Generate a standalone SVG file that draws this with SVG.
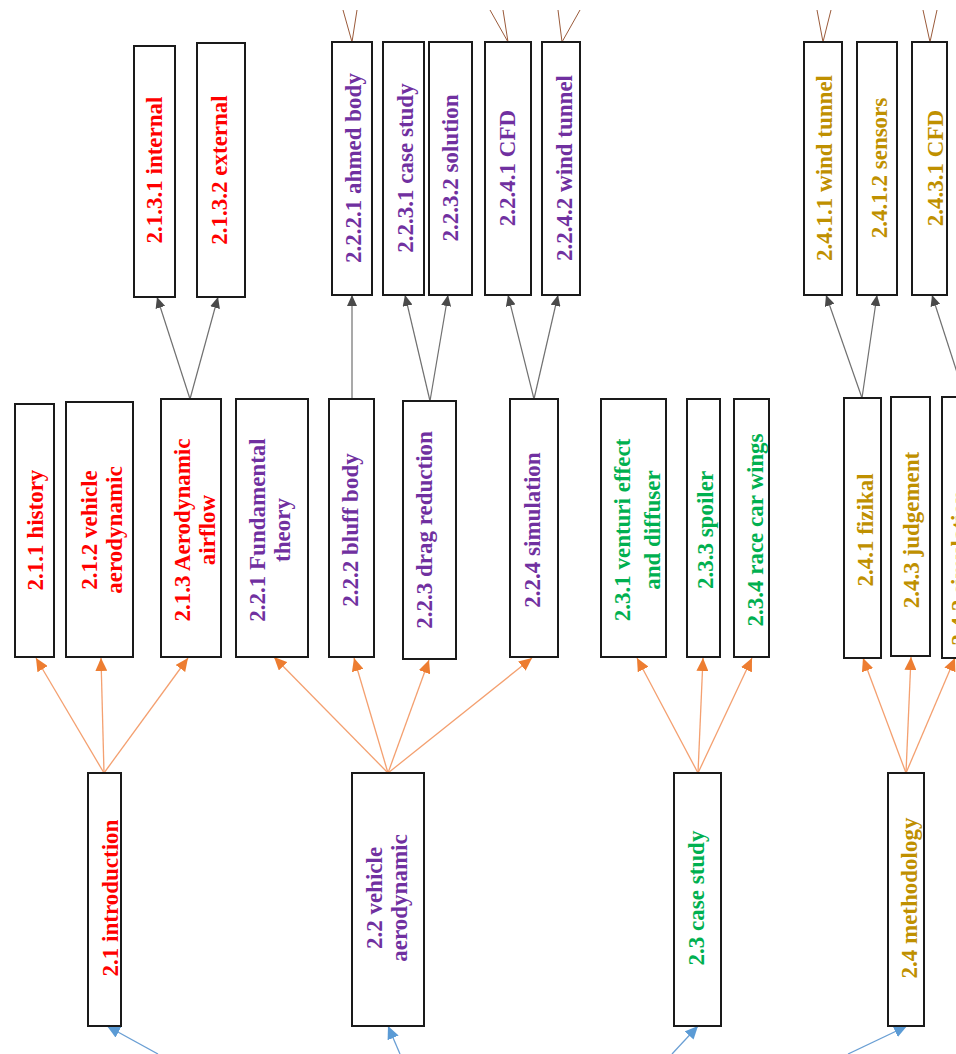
<svg xmlns="http://www.w3.org/2000/svg" width="956" height="1054" viewBox="0 0 956 1054">
<style>
.box{fill:#ffffff;stroke:#1a1a1a;stroke-width:2}
text{font-family:"Liberation Serif","Times New Roman",serif;font-size:23px;font-weight:bold;text-anchor:middle}
.r{fill:#ff0000}.p{fill:#7030a0}.g{fill:#00b050}.y{fill:#bf9000}
.ob{stroke:#f4a070;stroke-width:1.3;fill:none}
.gr{stroke:#707070;stroke-width:1.2;fill:none}
.bl{stroke:#6a9fd4;stroke-width:1.3;fill:none}
.br{stroke:#9a5a3a;stroke-width:1;fill:none}
</style>
<defs>
<marker id="ao" markerUnits="userSpaceOnUse" markerWidth="14" markerHeight="12" refX="13" refY="6" orient="auto"><path d="M0,0 L13,6 L0,12 z" fill="#ed7d31"/></marker>
<marker id="ag" markerUnits="userSpaceOnUse" markerWidth="12" markerHeight="10" refX="11" refY="5" orient="auto"><path d="M0,0 L11,5 L0,10 z" fill="#4a4a4a"/></marker>
<marker id="ab" markerUnits="userSpaceOnUse" markerWidth="14" markerHeight="12" refX="13" refY="6" orient="auto"><path d="M0,0 L13,6 L0,12 z" fill="#5b9bd5"/></marker>
</defs>
<rect width="956" height="1054" fill="#ffffff"/>
<g id="connectors">
<line class="bl" x1="158" y1="1054" x2="107" y2="1026" marker-end="url(#ab)"/>
<line class="bl" x1="400" y1="1054" x2="388" y2="1026" marker-end="url(#ab)"/>
<line class="bl" x1="672" y1="1054" x2="698" y2="1026" marker-end="url(#ab)"/>
<line class="bl" x1="848" y1="1054" x2="907" y2="1026" marker-end="url(#ab)"/>
<line class="ob" x1="104" y1="773" x2="36" y2="658" marker-end="url(#ao)"/>
<line class="ob" x1="104" y1="773" x2="101" y2="658" marker-end="url(#ao)"/>
<line class="ob" x1="104" y1="773" x2="188" y2="658" marker-end="url(#ao)"/>
<line class="ob" x1="388" y1="773" x2="274" y2="657" marker-end="url(#ao)"/>
<line class="ob" x1="388" y1="773" x2="354" y2="658" marker-end="url(#ao)"/>
<line class="ob" x1="388" y1="773" x2="429" y2="660" marker-end="url(#ao)"/>
<line class="ob" x1="388" y1="773" x2="532" y2="658" marker-end="url(#ao)"/>
<line class="ob" x1="698" y1="773" x2="637" y2="658" marker-end="url(#ao)"/>
<line class="ob" x1="698" y1="773" x2="703" y2="658" marker-end="url(#ao)"/>
<line class="ob" x1="698" y1="773" x2="752" y2="658" marker-end="url(#ao)"/>
<line class="ob" x1="906" y1="773" x2="863" y2="658" marker-end="url(#ao)"/>
<line class="ob" x1="906" y1="773" x2="911" y2="657" marker-end="url(#ao)"/>
<line class="ob" x1="906" y1="773" x2="955" y2="658" marker-end="url(#ao)"/>
<line class="gr" x1="190" y1="399" x2="157" y2="297" marker-end="url(#ag)"/>
<line class="gr" x1="190" y1="399" x2="218" y2="297" marker-end="url(#ag)"/>
<line class="gr" x1="352" y1="399" x2="352" y2="295" marker-end="url(#ag)"/>
<line class="gr" x1="430" y1="401" x2="405" y2="295" marker-end="url(#ag)"/>
<line class="gr" x1="430" y1="401" x2="448" y2="295" marker-end="url(#ag)"/>
<line class="gr" x1="534" y1="399" x2="508" y2="295" marker-end="url(#ag)"/>
<line class="gr" x1="534" y1="399" x2="558" y2="295" marker-end="url(#ag)"/>
<line class="gr" x1="862" y1="398" x2="826" y2="295" marker-end="url(#ag)"/>
<line class="gr" x1="862" y1="398" x2="877" y2="295" marker-end="url(#ag)"/>
<line class="gr" x1="965" y1="397" x2="932" y2="295" marker-end="url(#ag)"/>
<line class="br" x1="352" y1="42" x2="343" y2="10"/>
<line class="br" x1="352" y1="42" x2="357" y2="10"/>
<line class="br" x1="508" y1="42" x2="490" y2="10"/>
<line class="br" x1="508" y1="42" x2="503" y2="10"/>
<line class="br" x1="562" y1="42" x2="558" y2="10"/>
<line class="br" x1="562" y1="42" x2="580" y2="10"/>
<line class="br" x1="823" y1="42" x2="817" y2="10"/>
<line class="br" x1="823" y1="42" x2="831" y2="10"/>
<line class="br" x1="930" y1="42" x2="923" y2="10"/>
<line class="br" x1="930" y1="42" x2="937" y2="10"/>
</g>
<g id="n21"><rect class="box" x="88" y="773" width="33" height="253"/><text class="r" transform="translate(118,898) rotate(-90)">2.1 introduction</text></g>
<g id="n22"><rect class="box" x="352" y="773" width="72" height="253"/><text class="p" transform="translate(382,898) rotate(-90)">2.2 vehicle</text><text class="p" transform="translate(407,898) rotate(-90)">aerodynamic</text></g>
<g id="n23"><rect class="box" x="674" y="773" width="47" height="253"/><text class="g" transform="translate(704,898) rotate(-90)">2.3 case study</text></g>
<g id="n24"><rect class="box" x="888" y="773" width="36" height="253"/><text class="y" transform="translate(917,898) rotate(-90)">2.4 methodology</text></g>

<g id="n211"><rect class="box" x="15" y="404" width="39" height="253"/><text class="r" transform="translate(43,530) rotate(-90)">2.1.1 history</text></g>
<g id="n212"><rect class="box" x="66" y="402" width="67" height="255"/><text class="r" transform="translate(97,530) rotate(-90)">2.1.2 vehicle</text><text class="r" transform="translate(122,530) rotate(-90)">aerodynamic</text></g>
<g id="n213"><rect class="box" x="161" y="399" width="60" height="258"/><text class="r" transform="translate(190,530) rotate(-90)">2.1.3 Aerodynamic</text><text class="r" transform="translate(215,530) rotate(-90)">airflow</text></g>
<g id="n221"><rect class="box" x="236" y="399" width="72" height="258"/><text class="p" transform="translate(265,530) rotate(-90)">2.2.1 Fundamental</text><text class="p" transform="translate(290,530) rotate(-90)">theory</text></g>
<g id="n222"><rect class="box" x="329" y="399" width="45" height="258"/><text class="p" transform="translate(358,530) rotate(-90)">2.2.2 bluff body</text></g>
<g id="n223"><rect class="box" x="403" y="401" width="53" height="258"/><text class="p" transform="translate(432,530) rotate(-90)">2.2.3 drag reduction</text></g>
<g id="n224"><rect class="box" x="510" y="399" width="48" height="258"/><text class="p" transform="translate(540,530) rotate(-90)">2.2.4 simulation</text></g>
<g id="n231"><rect class="box" x="601" y="399" width="65" height="258"/><text class="g" transform="translate(630,530) rotate(-90)">2.3.1 venturi effect</text><text class="g" transform="translate(660,530) rotate(-90)">and diffuser</text></g>
<g id="n233"><rect class="box" x="687" y="399" width="33" height="258"/><text class="g" transform="translate(713,530) rotate(-90)">2.3.3 spoiler</text></g>
<g id="n234"><rect class="box" x="734" y="399" width="35" height="258"/><text class="g" transform="translate(763,530) rotate(-90)">2.3.4 race car wings</text></g>
<g id="n241"><rect class="box" x="844" y="398" width="37" height="260"/><text class="y" transform="translate(873,530) rotate(-90)">2.4.1 fizikal</text></g>
<g id="n243"><rect class="box" x="891" y="397" width="39" height="259"/><text class="y" transform="translate(919,530) rotate(-90)">2.4.3 judgement</text></g>
<g id="n242"><rect class="box" x="942" y="397" width="40" height="261"/><text class="y" transform="translate(967,568) rotate(-90)">2.4.2 simulation</text></g>

<g id="n2131"><rect class="box" x="134" y="46" width="41" height="251"/><text class="r" transform="translate(162,170) rotate(-90)">2.1.3.1 internal</text></g>
<g id="n2132"><rect class="box" x="197" y="43" width="48" height="254"/><text class="r" transform="translate(227,170) rotate(-90)">2.1.3.2 external</text></g>
<g id="n2221"><rect class="box" x="332" y="42" width="40" height="253"/><text class="p" transform="translate(361,168) rotate(-90)">2.2.2.1 ahmed body</text></g>
<g id="n2231"><rect class="box" x="383" y="42" width="41" height="253"/><text class="p" transform="translate(413,168) rotate(-90)">2.2.3.1 case study</text></g>
<g id="n2232"><rect class="box" x="429" y="42" width="43" height="253"/><text class="p" transform="translate(458,168) rotate(-90)">2.2.3.2 solution</text></g>
<g id="n2241"><rect class="box" x="485" y="42" width="46" height="253"/><text class="p" transform="translate(515,168) rotate(-90)">2.2.4.1 CFD</text></g>
<g id="n2242"><rect class="box" x="542" y="42" width="38" height="253"/><text class="p" transform="translate(572,168) rotate(-90)">2.2.4.2 wind tunnel</text></g>
<g id="n2411"><rect class="box" x="804" y="42" width="38" height="253"/><text class="y" transform="translate(832,168) rotate(-90)">2.4.1.1 wind tunnel</text></g>
<g id="n2412"><rect class="box" x="857" y="42" width="40" height="253"/><text class="y" transform="translate(887,168) rotate(-90)">2.4.1.2 sensors</text></g>
<g id="n2431"><rect class="box" x="912" y="42" width="35" height="253"/><text class="y" transform="translate(943,168) rotate(-90)">2.4.3.1 CFD</text></g>
</svg>
